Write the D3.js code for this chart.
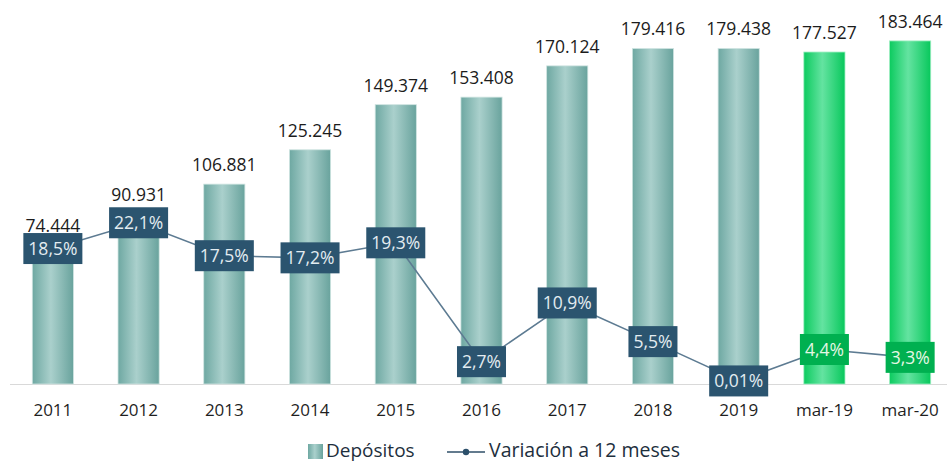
<!DOCTYPE html>
<html>
<head>
<meta charset="utf-8">
<script src="https://cdn.jsdelivr.net/npm/d3@7/dist/d3.min.js"></script>
<style>
  html, body { margin: 0; padding: 0; background: #ffffff; }
  svg { display: block; }
  text { font-family: "Open Sans", "Noto Sans", sans-serif; }
</style>
</head>
<body>
<svg id="chart" width="947" height="463"></svg>
<script>
// ---- data ----
const categories = ["2011","2012","2013","2014","2015","2016","2017","2018","2019","mar-19","mar-20"];
const depositos = [74444, 90931, 106881, 125245, 149374, 153408, 170124, 179416, 179438, 177527, 183464];
const variacion = [18.5, 22.1, 17.5, 17.2, 19.3, 2.7, 10.9, 5.5, 0.01, 4.4, 3.3];
const highlighted = ["mar-19", "mar-20"];
const legendLabels = ["Depósitos", "Variación a 12 meses"];

// ---- layout ----
const W = 947, H = 463;
const svg = d3.select("#chart");
const defs = svg.append("defs");

function grad(id, edgeL, mid, edgeR) {
  const g = defs.append("linearGradient").attr("id", id)
    .attr("x1", "0%").attr("x2", "100%").attr("y1", "0%").attr("y2", "0%");
  g.append("stop").attr("offset", "0%").attr("stop-color", edgeL);
  g.append("stop").attr("offset", "45%").attr("stop-color", mid);
  g.append("stop").attr("offset", "100%").attr("stop-color", edgeR);
}
grad("tealGrad", "#6ea8a2", "#aad0cc", "#69a39d");
grad("greenGrad", "#0ccb5f", "#64e3a1", "#08c85c");

const x = d3.scaleBand().domain(categories).range([10, 953])
  .paddingInner(0.52).paddingOuter(0.26);
const y = d3.scaleLinear().domain([0, 200000]).range([384, 10]);
const y2 = d3.scaleLinear().domain([0, 25]).range([381, 202]);

const isHi = c => highlighted.includes(c);

// baseline axis
const xAxis = d3.axisBottom(x).tickSize(0).tickPadding(0);
const gx = svg.append("g").attr("transform", `translate(0,${y(0)})`).call(xAxis);
gx.select(".domain").attr("stroke", "#d9d9d9").attr("stroke-width", 1.2)
  .attr("d", `M10,0.5H947`);
gx.selectAll(".tick text")
  .attr("dy", 0).attr("y", 32)
  .style("font-family", '"Open Sans", sans-serif')
  .style("font-size", "17px").attr("fill", "#1f1f1f");

// bars
svg.append("g").selectAll("rect").data(categories).join("rect")
  .attr("x", c => x(c))
  .attr("width", x.bandwidth())
  .attr("y", (c, i) => y(depositos[i]))
  .attr("height", (c, i) => y(0) - y(depositos[i]))
  .attr("fill", c => isHi(c) ? "url(#greenGrad)" : "url(#tealGrad)")
  .attr("stroke", c => isHi(c) ? "#9eeec2" : "#cfe4e1")
  .attr("stroke-width", 0.8);

// value labels
const fmtVal = v => d3.format(",")(v).replace(/,/g, ".");
svg.append("g").selectAll("text").data(categories).join("text")
  .attr("x", c => x(c) + x.bandwidth() / 2)
  .attr("y", (c, i) => y(depositos[i]) - 13)
  .attr("text-anchor", "middle")
  .style("font-size", "17.5px")
  .attr("fill", "#1c1c1c")
  .text((c, i) => fmtVal(depositos[i]));

// line
const line = d3.line()
  .x((d, i) => x(categories[i]) + x.bandwidth() / 2)
  .y(d => y2(d));
svg.append("path").datum(variacion)
  .attr("d", line)
  .attr("fill", "none")
  .attr("stroke", "#5d7b92")
  .attr("stroke-width", 1.6);

// percentage boxes
const fmtPct = v => (v < 1 ? v.toFixed(2) : v.toFixed(1)).replace(".", ",") + "%";
const boxes = svg.append("g").selectAll("g").data(categories).join("g")
  .attr("transform", (c, i) => `translate(${x(c) + x.bandwidth() / 2},${y2(variacion[i])})`);
boxes.each(function (c, i) {
  const g = d3.select(this);
  const rect = g.append("rect");
  const t = g.append("text")
    .attr("text-anchor", "middle")
    .attr("dy", "0.36em")
    .style("font-size", "17.5px")
    .attr("fill", isHi(c) ? "#e4f7e4" : "#e3ecf1")
    .text(fmtPct(variacion[i]));
  const w = t.node().getComputedTextLength() + 10;
  rect.attr("x", -w / 2).attr("y", -15.5).attr("width", w).attr("height", 31)
    .attr("fill", isHi(c) ? "#00b050" : "#2b546f");
});

// legend
const lg = svg.append("g");
lg.append("rect").attr("x", 308).attr("y", 444).attr("width", 15).attr("height", 15)
  .attr("fill", "url(#tealGrad)");
lg.append("text").attr("x", 326).attr("y", 457)
  .style("font-size", "19px").attr("fill", "#1e2f3d").text(legendLabels[0]);
lg.append("line").attr("x1", 447).attr("x2", 485).attr("y1", 452).attr("y2", 452)
  .attr("stroke", "#2f4f68").attr("stroke-width", 1.6);
lg.append("circle").attr("cx", 466).attr("cy", 452).attr("r", 3.2).attr("fill", "#2b4f6a");
lg.append("text").attr("x", 489).attr("y", 457)
  .style("font-size", "19.5px").attr("fill", "#1e2f3d").text(legendLabels[1]);
</script>
</body>
</html>
